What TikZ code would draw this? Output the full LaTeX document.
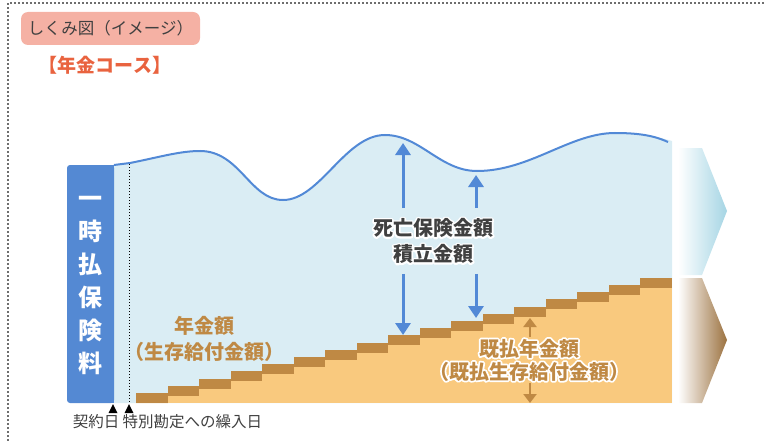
\documentclass[tikz,border=0pt]{standalone}
\usepackage{fontspec}
\setmainfont{Noto Sans CJK JP}
\usepackage{tikz}
\usetikzlibrary{arrows.meta,positioning}
\usepackage{xcolor}
\definecolor{kmpill}{RGB}{245,177,164}
\definecolor{kmgray}{RGB}{64,64,64}
\definecolor{kmcourse}{RGB}{233,99,63}
\definecolor{kmbar}{RGB}{84,137,211}
\definecolor{kmsky}{RGB}{218,237,244}
\definecolor{kmline}{RGB}{82,137,214}
\definecolor{kmbrown}{RGB}{191,137,68}
\definecolor{kmorange}{RGB}{249,201,126}
\definecolor{kmchevblue}{RGB}{165,213,228}
\definecolor{kmtan}{RGB}{214,185,143}
\definecolor{kmdark}{RGB}{156,114,64}
\definecolor{kmborder}{RGB}{110,110,110}
% white outline behind a text (stroked glyphs)
\newcommand\halo[1]{\special{pdf:literal direct 1 Tr 3.5 w 1 j}#1\special{pdf:literal direct 0 Tr}}
\tikzstyle{arrow} = [line width=3pt,-{Triangle[width=15pt,length=12pt]},color=kmline]
\tikzstyle{paidarrow} = [line width=2.5pt,-{Triangle[width=13pt,length=9pt]},color=kmbrown]
\tikzstyle{biglabel} = [font=\bfseries\fontsize{20}{26}\selectfont, align=center]
\tikzstyle{datelabel} = [font=\fontsize{15.5}{18}\selectfont, text=kmgray, inner sep=0pt]

\begin{document}
\begin{tikzpicture}[x=1pt, y=-1pt]
\useasboundingbox (0,0) rectangle (765,441);
% frame
\draw[kmborder, line width=1.5pt, dash pattern=on 2pt off 2pt] (8,441) -- (8,3) -- (765,3);
\node (shikumi) [fill=kmpill, rounded corners=7pt, minimum width=179pt, minimum height=33pt, text=kmgray, font=\fontsize{16.5}{18}\selectfont] at (110.5,28.5) {しくみ図（イメージ）};
\node (course) [text=kmcourse, font=\bfseries\fontsize{19}{22}\selectfont] at (105,65) {【年金コース】};

% account value area
\fill[kmsky] (114,165) -- (130,163) .. controls (160,157) and (180,151) .. (200,151)
  .. controls (240,151) and (250,200) .. (283,200)
  .. controls (320,200) and (345,135) .. (385,135)
  .. controls (420,135) and (440,171) .. (477,171)
  .. controls (530,171) and (570,133) .. (615,133)
  .. controls (640,133) and (655,136) .. (672,141) -- (672,403) -- (114,403) -- cycle;

% paid pension steps
\foreach \i in {0,...,16}{
  \pgfmathsetmacro\xa{136+31.5*\i}
  \pgfmathsetmacro\yt{393-7.2*\i}
  \fill[kmorange] (\xa,\yt+10) rectangle (\xa+31.5,403);
  \fill[kmbrown] (\xa,\yt) rectangle (\xa+31.5,\yt+10);
}

\draw[kmline, line width=2pt] (114,165) -- (130,163) .. controls (160,157) and (180,151) .. (200,151)
  .. controls (240,151) and (250,200) .. (283,200)
  .. controls (320,200) and (345,135) .. (385,135)
  .. controls (420,135) and (440,171) .. (477,171)
  .. controls (530,171) and (570,133) .. (615,133)
  .. controls (640,133) and (655,136) .. (668,142);

% chevrons
\shade[left color=white, right color=kmchevblue] (678,148) -- (702,148) -- (727,211) -- (702,275) -- (678,275) -- cycle;
\shade[left color=white, middle color=kmtan, right color=kmdark] (678,278) -- (702,278) -- (727,340) -- (702,403) -- (678,403) -- cycle;

% premium bar
\fill[kmbar, rounded corners=3pt] (67,165) rectangle (114,403);
\fill[kmbar] (100,165) rectangle (114,403);
\node (premium) [text=white, align=center, font=\bfseries\fontsize{24}{33}\selectfont] at (90.5,285) {一\\時\\払\\保\\険\\料};
\draw[dotted, line width=1pt] (129,164) -- (129,403);

% labels and arrows
\node (pension) [biglabel, text=kmbrown] at (204,339) {年金額\\（生存給付金額）};
\node (deathglow) [biglabel, text=white, inner ysep=10pt] at (433,241) {\halo{死亡保険金額}\\\halo{積立金額}};
\node (deathlbl) [biglabel, text=kmgray, inner ysep=10pt] at (433,241) {死亡保険金額\\積立金額};
\node (paidglow) [biglabel, text=white, inner ysep=1.5pt, font=\bfseries\fontsize{20}{23}\selectfont] at (529,360) {\halo{既払年金額}\\\halo{（既払生存給付金額）}};
\node (paidlbl) [biglabel, text=kmbrown, inner ysep=1.5pt, font=\bfseries\fontsize{20}{23}\selectfont] at (529,360) {既払年金額\\（既払生存給付金額）};

\coordinate (peakA) at (403,143);
\coordinate (floorA) at (403,335);
\coordinate (peakB) at (476,175);
\coordinate (floorB) at (476,318);
\coordinate (paidtop) at (530,318);
\coordinate (paidbot) at (530,403);
\draw[arrow] (deathlbl.north -| peakA) -- (peakA);
\draw[arrow] (deathlbl.south -| floorA) -- (floorA);
\draw[arrow] (deathlbl.north -| peakB) -- (peakB);
\draw[arrow] (deathlbl.south -| floorB) -- (floorB);
\draw[paidarrow] (paidlbl.north -| paidtop) -- (paidtop);
\draw[paidarrow] (paidlbl.south -| paidbot) -- (paidbot);

% dates
\foreach \x in {113,129}
  \fill (\x,404) -- ++(-4.5,9) -- ++(9,0) -- cycle;
\node (contract) [datelabel, anchor=east] at (119.5,422) {契約日};
\node (transfer) [datelabel, anchor=west] at (122.5,422) {特別勘定への繰入日};
\end{tikzpicture}
\end{document}
